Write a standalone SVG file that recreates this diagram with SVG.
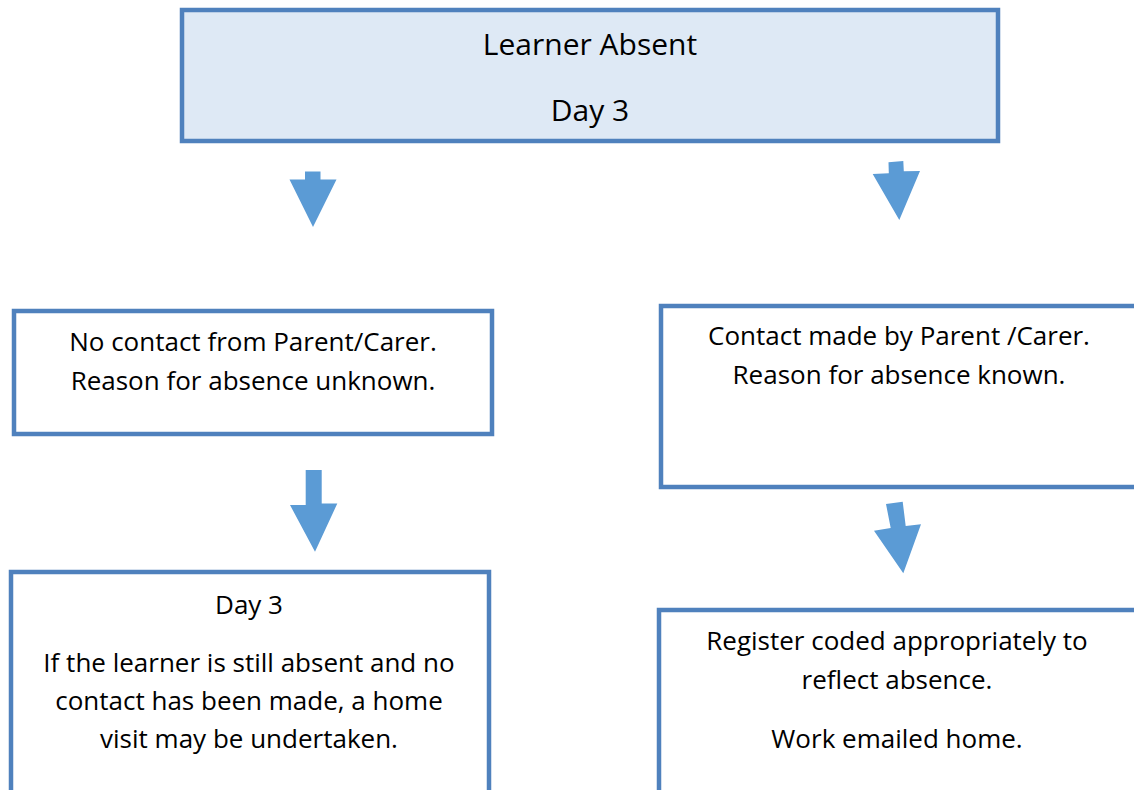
<svg xmlns="http://www.w3.org/2000/svg" width="1134" height="790" viewBox="0 0 1134 790">
<style>
.box{fill:#ffffff;stroke:#4f81bd;stroke-width:4.5}
.top{fill:#dee9f5;stroke:#4f81bd;stroke-width:4.5}
.arr{fill:#5b9bd5;stroke:none}
text{font-family:"Open Sans","Noto Sans",sans-serif;font-size:26px;fill:#000;text-anchor:middle}
.big{font-size:30px}
</style>
<rect width="1134" height="790" fill="#ffffff"/>
<g id="learner-absent">
<rect class="top" x="182" y="10" width="816" height="131"/>
<text class="big" x="590" y="55">Learner Absent</text>
<text class="big" x="590" y="121">Day 3</text>
</g>
<g id="no-contact">
<rect class="box" x="14" y="311" width="478" height="123"/>
<text x="253" y="351">No contact from Parent/Carer.</text>
<text x="253" y="390">Reason for absence unknown.</text>
</g>
<g id="contact-made">
<rect class="box" x="661" y="306" width="478" height="181"/>
<text x="899" y="345">Contact made by Parent /Carer.</text>
<text x="899" y="384">Reason for absence known.</text>
</g>
<g id="home-visit">
<rect class="box" x="11" y="572" width="478" height="240"/>
<text x="249" y="614">Day 3</text>
<text x="249" y="672">If the learner is still absent and no</text>
<text x="249" y="710">contact has been made, a home</text>
<text x="249" y="748">visit may be undertaken.</text>
</g>
<g id="register-coded">
<rect class="box" x="659" y="610" width="480" height="200"/>
<text x="897" y="650">Register coded appropriately to</text>
<text x="897" y="689">reflect absence.</text>
<text x="897" y="748">Work emailed home.</text>
</g>
<g id="connectors">
<polygon class="arr" points="305,171.5 320.5,171.5 320.5,179.5 336.5,179.5 313,227 289.5,179.5 305,179.5"/>
<polygon class="arr" points="888.5,162.3 903.3,161 903.8,171.3 920,171 899.3,220 872.7,174 888.8,173.3"/>
<polygon class="arr" points="305.7,470 321.7,470 321.7,503.5 337.3,503.5 315,551.7 290,505 305.7,505"/>
<polygon class="arr" points="886,504 902.7,501.7 905.7,526 921,524.3 903.3,573.3 874,530.7 890.7,528"/>
</g>
</svg>
